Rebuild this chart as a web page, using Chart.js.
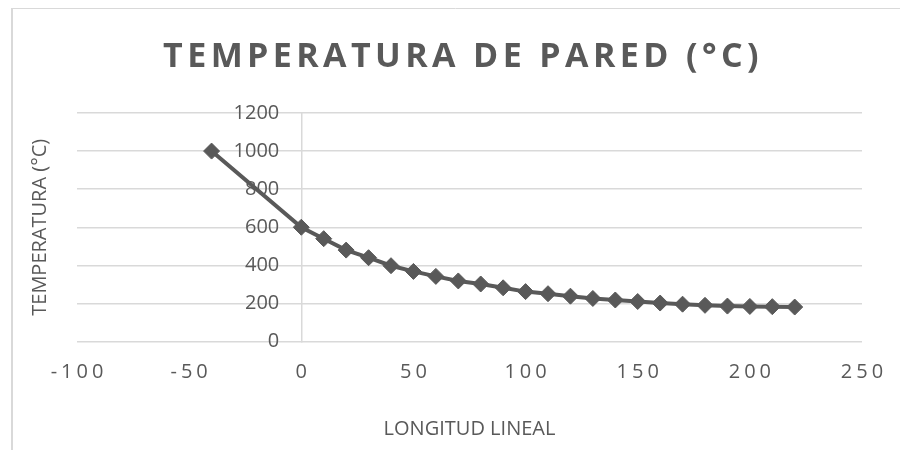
<!DOCTYPE html>
<html>
<head>
  <meta charset="UTF-8">
  <title>Temperatura de pared</title>
  <script src="https://cdn.jsdelivr.net/npm/chart.js"></script>
  <style>
    body { margin: 0; background: #fff; }
    canvas { display: block; }
  </style>
</head>
<body>
  <canvas id="wallChart" width="900" height="450"></canvas>
  <script>
    // Longitud lineal (x) y temperatura de pared (°C)
    const lengths = [-40, 0, 10, 20, 30, 40, 50, 60, 70, 80, 90, 100, 110, 120, 130, 140, 150, 160, 170, 180, 190, 200, 210, 220];
    const temps = [1000, 600, 540, 480, 440, 398, 368, 342, 318, 302, 282, 262, 251, 238, 226, 218, 210, 202, 196, 190, 186, 184, 183, 181];

    // Axis ranges and tick steps
    const xLimits = [-100, 250];
    const yLimits = [0, 1200];
    const xStep = 50;
    const yStep = 200;

    const ink = '#595959';
    const rule = '#d9d9d9';
    const family = '"Open Sans", sans-serif';

    // Frame, spaced x tick labels, y labels pulled off the axis, titles
    const chartDecor = {
      id: 'chartDecor',
      beforeDraw(chart) {
        const ctx = chart.ctx;
        ctx.save();
        ctx.strokeStyle = rule;
        ctx.lineWidth = 2;
        ctx.beginPath();
        ctx.moveTo(12, 450);
        ctx.lineTo(12, 8);
        ctx.stroke();
        ctx.lineWidth = 1;
        ctx.beginPath();
        ctx.moveTo(11, 8.5);
        ctx.lineTo(900, 8.5);
        ctx.stroke();
        ctx.restore();

        const xs = chart.scales.x;
        const ys = chart.scales.y;
        if (!xs._spaced) {
          const drawX = xs.drawLabels;
          xs.drawLabels = function (area) {
            ctx.save();
            ctx.letterSpacing = '4px';
            ctx.translate(2, 0);
            drawX.call(this, area);
            ctx.restore();
          };
          xs._spaced = true;
        }
        if (!ys._shifted) {
          const drawY = ys.drawLabels;
          ys.drawLabels = function (area) {
            ctx.save();
            ctx.translate(-22, 0);
            drawY.call(this, area);
            ctx.restore();
          };
          ys._shifted = true;
        }
      },
      afterDraw(chart) {
        const ctx = chart.ctx;
        const area = chart.chartArea;
        ctx.save();
        ctx.fillStyle = ink;
        ctx.textAlign = 'center';

        ctx.font = 'bold 34px ' + family;
        ctx.letterSpacing = '4.4px';
        ctx.textBaseline = 'alphabetic';
        ctx.fillText('TEMPERATURA DE PARED (°C)', 463, 67);

        ctx.letterSpacing = '0px';
        ctx.font = '20px ' + family;
        ctx.textBaseline = 'middle';
        ctx.translate(40, (area.top + area.bottom) / 2);
        ctx.rotate(-Math.PI / 2);
        ctx.fillText('TEMPERATURA (°C)', 0, 0);
        ctx.restore();
      }
    };

    new Chart(document.getElementById('wallChart'), {
      type: 'scatter',
      data: {
        datasets: [{
          data: lengths.map((x, i) => ({ x: x, y: temps[i] })),
          showLine: true,
          tension: 0,
          borderColor: ink,
          borderWidth: 4,
          pointStyle: 'rectRot',
          pointRadius: 8,
          pointBorderWidth: 1,
          pointBackgroundColor: ink,
          pointBorderColor: ink
        }]
      },
      options: {
        responsive: false,
        animation: false,
        layout: { padding: { left: 77, right: 38, top: 113, bottom: 8.5 } },
        plugins: {
          legend: { display: false },
          tooltip: { enabled: false }
        },
        scales: {
          x: {
            type: 'linear',
            position: 'bottom',
            min: xLimits[0],
            max: xLimits[1],
            grid: { display: false, drawTicks: false },
            border: { display: false },
            ticks: {
              stepSize: xStep,
              padding: 18.5,
              color: ink,
              font: { family: family, size: 20 },
              callback: v => String(v)
            },
            title: {
              display: true,
              text: 'LONGITUD LINEAL',
              color: ink,
              font: { family: family, size: 20 },
              padding: { top: 15, bottom: 0 }
            }
          },
          y: {
            type: 'linear',
            position: { x: 0 },
            min: yLimits[0],
            max: yLimits[1],
            grid: { color: rule, lineWidth: 1.5, drawTicks: false },
            border: { display: true, color: rule, width: 1.5 },
            ticks: {
              stepSize: yStep,
              padding: 0,
              color: ink,
              font: { family: family, size: 20 },
              callback: v => String(v)
            }
          }
        }
      },
      plugins: [chartDecor]
    });
  </script>
</body>
</html>
